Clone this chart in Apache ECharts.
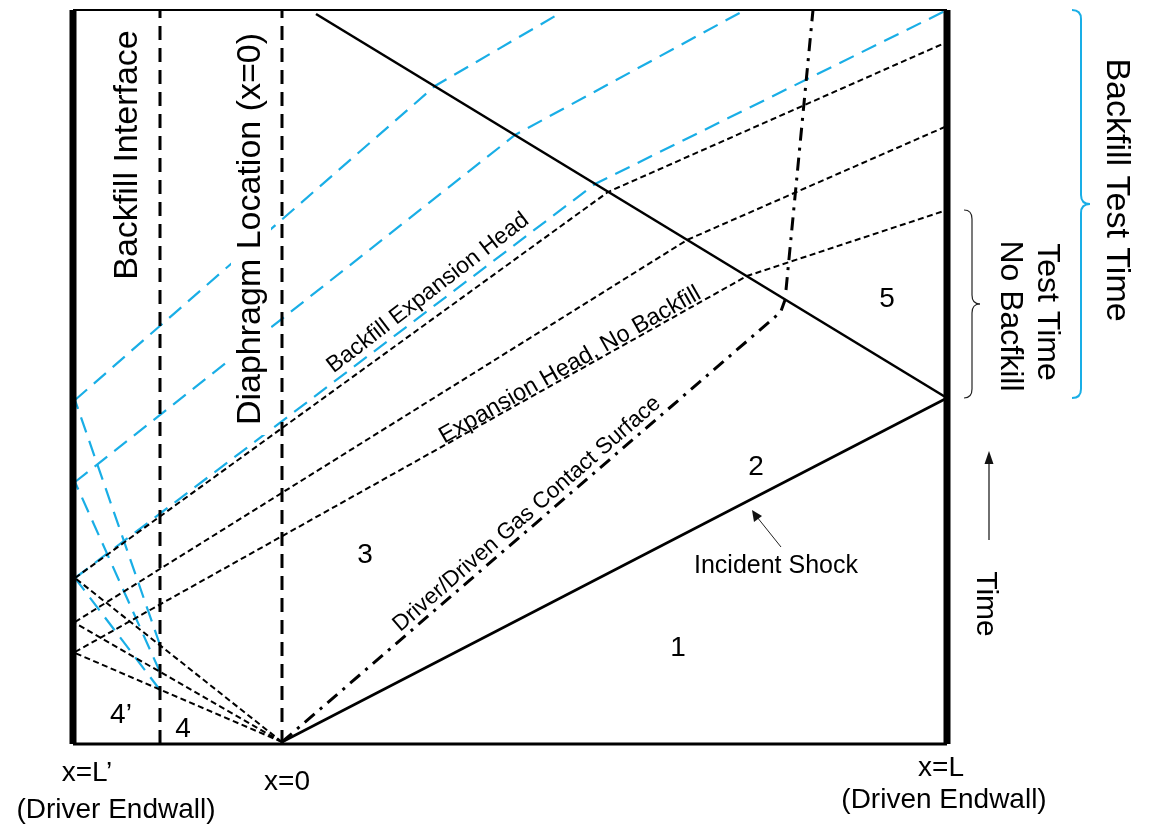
<!DOCTYPE html>
<html>
<head>
<meta charset="utf-8">
<script src="https://cdn.jsdelivr.net/npm/echarts@6/dist/echarts.min.js"></script>
<style>
  html, body { margin: 0; padding: 0; background: #ffffff; }
  #chart { width: 1154px; height: 827px; }
</style>
</head>
<body>
<div id="chart"></div>
<script>
// x: position along the tube, measured from the diaphragm (x=0)
// t: time, upward
const xDriverWall = -209;
const xDrivenWall = 665;
const xBackfill = -122;
const xDiaphragm = 0;
const tEnd = 734;

// Waves and surfaces, as [x, t] points
const incidentShock = [[0, 2], [665, 346]];
const reflectedShock = [[665, 346], [34, 730]];
const contactSurface = [[0, 2], [493, 427], [499, 433], [503, 444]];
const reflectedContact = [[504, 454], [531, 734]];

// Expansion fan leaving the diaphragm toward the driver endwall
const fanRays = [
  [[0, 2], [-207, 166]],
  [[0, 2], [-207, 121]],
  [[0, 2], [-207, 91]]
];
// Fan reflected from the driver endwall (no backfill)
const reflectedRays = [
  [[-207, 166], [326, 552], [665, 702]],
  [[-207, 122], [405, 504], [665, 618]],
  [[-207, 92], [465, 468], [665, 534]]
];
// Fan refracted into the backfill gas
const backfillRays = [
  [[-122, 54], [-207, 166]],
  [[-122, 72], [-207, 262]],
  [[-122, 99], [-207, 344]]
];
// Backfill fan reflected from the driver endwall
const backfillReflected = [
  [[-207, 166], [313, 560], [665, 734]],
  [[-207, 262], [233, 609], [463, 734]],
  [[-207, 344], [153, 658], [280, 732]]
];

// Region numbers
const regionNames = ['4\u2019', '4', '3', '2', '1', '5'];
const regionX = [-161, -99, 83, 474, 396, 605];
const regionT = [29, 15, 189, 277, 96, 445];

// Labels running along the waves
const waveLabelText = ['Backfill Expansion Head', 'Expansion Head, No Backfill', 'Driver/Driven Gas Contact Surface'];
const waveLabelX = [146, 288, 245];
const waveLabelT = [451, 379, 230];
const waveLabelAngle = [37.5, 29.5, 41];
const waveLabelSize = [23, 23.5, 22.5];

// Vertical labels beside the dashed station lines
const stationText = ['Backfill Interface', 'Diaphragm Location (x=0)'];
const stationX = [-154, -31];
const stationT = [589, 515];

// Test-time windows at the driven endwall
const testTimeNoBackfill = [346, 534];
const testTimeBackfill = [346, 734];

const FONT = '"Liberation Sans", Arial, Helvetica, sans-serif';
const BLUE = '#19aee6';
const INK = '#000';

function path(data, color, width, dash, z) {
  return {
    type: 'line', data: data, symbol: 'none', clip: false, silent: true,
    animation: false, z: z || 2,
    lineStyle: { color: color, width: width, type: dash, cap: 'butt', join: 'miter' }
  };
}

const series = [];
// tube walls and frame
series.push(path([[xDriverWall, tEnd], [xDrivenWall, tEnd]], INK, 2, 'solid', 3));
series.push(path([[xDriverWall, 0], [xDrivenWall, 0]], INK, 3, 'solid', 3));
series.push(path([[xDriverWall, 0], [xDriverWall, tEnd]], INK, 7, 'solid', 4));
series.push(path([[xDrivenWall, 0], [xDrivenWall, tEnd]], INK, 7, 'solid', 4));
// station lines
series.push(path([[xBackfill, 0], [xBackfill, tEnd]], INK, 3, [14, 8], 3));
series.push(path([[xDiaphragm, 0], [xDiaphragm, tEnd]], INK, 3, [14, 8], 3));
// expansion waves
backfillRays.forEach(r => series.push(path(r, BLUE, 2.2, [16, 9], 2)));
backfillReflected.forEach(r => series.push(path(r, BLUE, 2.2, [16, 9], 2)));
fanRays.forEach(r => series.push(path(r, INK, 2, [6, 3.5], 2)));
reflectedRays.forEach(r => series.push(path(r, INK, 2, [6, 3.5], 2)));
// shocks and contact surface
series.push(path(incidentShock, INK, 2.6, 'solid', 3));
series.push(path(reflectedShock, INK, 2.6, 'solid', 3));
series.push(path(contactSurface, INK, 3, [13, 7, 3, 7], 3));
series.push(path(reflectedContact, INK, 3, [13, 7, 3, 7], 3));

// text labels placed in data space
const labelData = [];
regionNames.forEach((s, i) => labelData.push({
  value: [regionX[i], regionT[i]],
  label: { formatter: s, fontSize: 28, color: INK }
}));
waveLabelText.forEach((s, i) => labelData.push({
  value: [waveLabelX[i], waveLabelT[i]],
  label: { formatter: s, fontSize: waveLabelSize[i], rotate: waveLabelAngle[i], color: INK }
}));
stationText.forEach((s, i) => labelData.push({
  value: [stationX[i], stationT[i]],
  label: { formatter: s, fontSize: 34, rotate: 90, color: INK, backgroundColor: '#fff', padding: [4, 10, 2, 10] }
}));
series.push({
  type: 'scatter', symbolSize: 1, silent: true, animation: false, z: 10, clip: false,
  itemStyle: { color: 'rgba(255,255,255,0)', opacity: 1 },
  label: { show: true, position: 'inside', color: INK, fontFamily: FONT, align: 'center', verticalAlign: 'middle',
           textBorderWidth: 0 },
  data: labelData
});

const chart = echarts.init(document.getElementById('chart'));
chart.setOption({
  backgroundColor: '#fff',
  animation: false,
  grid: { left: 73, right: 207, top: 10, bottom: 83 },
  xAxis: { type: 'value', min: xDriverWall, max: xDrivenWall, show: false },
  yAxis: { type: 'value', min: 0, max: tEnd, show: false },
  series: series
});

// annotations outside the tube
const py = t => chart.convertToPixel({ gridIndex: 0 }, [0, t])[1];
function brace(x0, w, top, bot, color, width) {
  const m = (top + bot) / 2, r = 9, xs = x0 + w / 2;
  const st = { stroke: color, lineWidth: width, fill: null };
  const curve = (x1, y1, cx, cy, x2, y2) => ({
    type: 'bezierCurve', silent: true, style: st,
    shape: { x1: x1, y1: y1, cpx1: cx, cpy1: cy, x2: x2, y2: y2 }
  });
  const seg = (y1, y2) => ({ type: 'line', silent: true, style: st, shape: { x1: xs, y1: y1, x2: xs, y2: y2 } });
  return [
    curve(x0, top, xs, top, xs, top + r),
    seg(top + r, m - r),
    curve(xs, m - r, xs, m, x0 + w, m),
    curve(x0 + w, m, xs, m, xs, m + r),
    seg(m + r, bot - r),
    curve(xs, bot - r, xs, bot, x0, bot)
  ];
}
function txt(s, x, y, size, rot, color) {
  return {
    type: 'text', x: x, y: y, rotation: rot || 0, silent: true,
    style: { text: s, fill: color || INK, font: `${size}px ${FONT}`, align: 'center', verticalAlign: 'middle' }
  };
}
const gTop1 = py(testTimeNoBackfill[1]), gBot1 = py(testTimeNoBackfill[0]);
const gTop2 = py(testTimeBackfill[1]), gBot2 = py(testTimeBackfill[0]);

chart.setOption({
  graphic: [].concat(
    brace(964, 16, gTop1, gBot1, '#222', 1.2),
    brace(1072, 18, gTop2, gBot2, BLUE, 2),
    [
      txt('Backfill Test Time', 1116, (gTop2 + gBot2) / 2 - 14, 34, -Math.PI / 2),
      txt('Test Time', 1047, 312, 32, -Math.PI / 2),
      txt('No Bacfkill', 1010, 316, 32, -Math.PI / 2),
      // time arrow
      { type: 'line', shape: { x1: 989, y1: 540, x2: 989, y2: 462 }, style: { stroke: '#222', lineWidth: 1.3 }, silent: true },
      { type: 'polygon', shape: { points: [[989, 451], [984.5, 464], [993.5, 464]] }, style: { fill: '#111' }, silent: true },
      txt('Time', 985, 604, 30, -Math.PI / 2),
      // incident shock pointer
      txt('Incident Shock', 776, 566, 25, 0),
      { type: 'line', shape: { x1: 781, y1: 547, x2: 757, y2: 517 }, style: { stroke: '#222', lineWidth: 1 }, silent: true },
      { type: 'polygon', shape: { points: [[752, 510], [754, 522], [762, 516]] }, style: { fill: '#111' }, silent: true },
      // station captions
      txt('x=L\u2019', 87, 773, 28, 0),
      txt('(Driver Endwall)', 116, 810, 28, 0),
      txt('x=0', 287, 782, 28, 0),
      txt('x=L', 941, 768, 28, 0),
      txt('(Driven Endwall)', 944, 800, 28, 0)
    ]
  )
});
</script>
</body>
</html>
